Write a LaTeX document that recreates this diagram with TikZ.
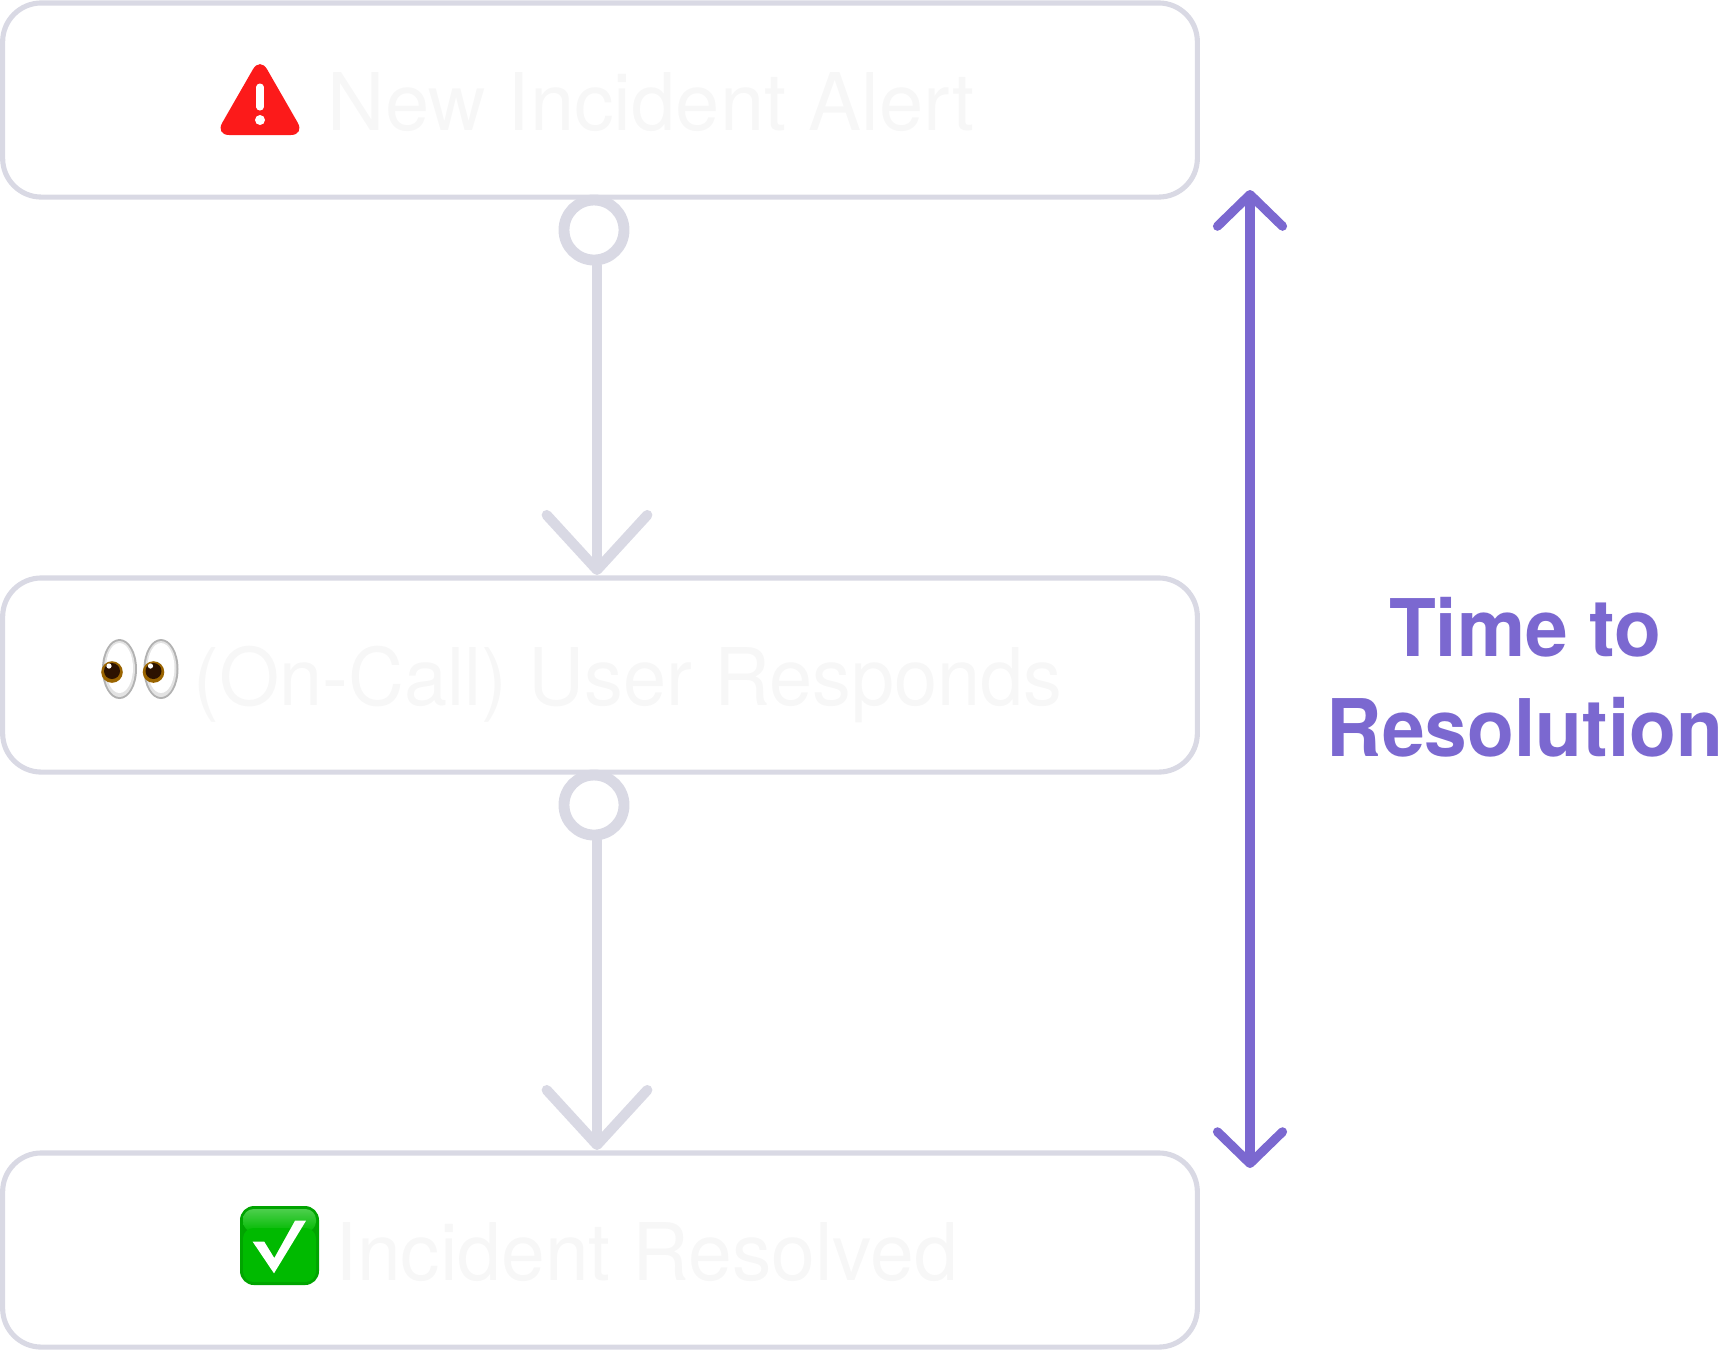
\documentclass[tikz,border=0pt]{standalone}
\usepackage{fontspec}
\setmainfont{TeX Gyre Heros}
\usepackage{tikz}
\usetikzlibrary{arrows.meta}
\definecolor{edgegray}{HTML}{D9D9E4}
\definecolor{labelgray}{HTML}{F7F7F7}
\definecolor{spanpurple}{HTML}{7B68D0}
\definecolor{warnred}{HTML}{FC1A1A}
\definecolor{okgreen}{HTML}{00BA00}
\definecolor{irisgold}{HTML}{9A6400}
\definecolor{pupilbrown}{HTML}{2C1200}
\newcommand{\narrowed}[1]{\addfontfeature{FakeStretch=#1}}
\tikzset{
  stepbox/.style={draw=edgegray, line width=1.45pt, rounded corners=11pt, minimum width=11.94cm, minimum height=1.94cm, inner sep=0pt},
  steptext/.style={text=labelgray, font=\fontsize{22.6}{28}\selectfont, anchor=base west, inner sep=0pt},
  joint/.style={circle, draw=edgegray, line width=3.1pt, minimum size=0.6cm, inner sep=0pt},
  flow/.style={draw=edgegray, line width=3pt, line cap=round, line join=round, -{Straight Barb[length=15.6pt, width=28.6pt, line width=2.9pt, round]}},
  span/.style={draw=spanpurple, line width=2.8pt, line cap=round, {Straight Barb[length=9pt, width=18.5pt, line width=2.6pt, round]}-{Straight Barb[length=9pt, width=18.5pt, line width=2.6pt, round]}},
}
\begin{document}
\begin{tikzpicture}[x=0.01cm, y=-0.01cm]
  \useasboundingbox (0,0) rectangle (1725,1350);
  % the three steps
  \node[stepbox] (alert) at (600,100) {};
  \node[stepbox] (respond) at (600,675) {};
  \node[stepbox] (resolved) at (600,1250) {};
  \node[steptext] (alerttext) at (327,130) {New Incident Alert};
  \node[steptext] (respondtext) at (192.5,705) {\narrowed{0.975}(On-Call) User Responds};
  \node[steptext] (resolvedtext) at (334.5,1280) {\narrowed{0.99}Incident Resolved};

  % connectors
  \node[joint] (jointa) at (594,230) {};
  \node[joint] (jointb) at (594,805) {};
  \coordinate (tipa) at (597,575);
  \coordinate (tipb) at (597,1150);
  \draw[flow] (tipa |- jointa.south) -- (tipa);
  \draw[flow] (tipb |- jointb.south) -- (tipb);

  % time span on the right
  \coordinate (spantop) at (1250,190);
  \coordinate (spanbot) at (1250,1168);
  \draw[span] (spantop) -- (spanbot);
  \node[text=spanpurple, font=\fontsize{22.6}{28}\selectfont\bfseries\narrowed{0.965}, align=center, inner sep=0pt] (spanlabel) at (1525,677) {Time to\\[0.4pt]Resolution};

  % warning sign
  \fill[warnred, rounded corners=4pt] (260,57) -- (304.8,135) -- (215.2,135) -- cycle;
  \draw[white, line width=2pt, line cap=round] (260,87) -- (260,107);
  \fill[white] (260,120) circle (5);

  % eyes
  \foreach \ex in {119.5, 161} {
    \fill[gray!60] (\ex,669) ellipse (17.5 and 30);
    \fill[gray!22] (\ex,669) ellipse (15.5 and 28);
    \fill[white] (\ex,668) ellipse (13.5 and 25);
    \fill[irisgold] (\ex-7.5,672) circle (10.8);
    \fill[pupilbrown] (\ex-7.5,671) circle (8);
    \fill[white] (\ex-10.5,666) circle (2.6);
  }

  % green check mark
  \fill[okgreen!88!black, rounded corners=4pt] (240,1206) rectangle (319,1285);
  \shade[top color=okgreen!70!white, bottom color=okgreen, rounded corners=3pt] (243,1209) rectangle (316,1232);
  \fill[okgreen, rounded corners=3pt] (243,1228) rectangle (316,1282);
  \fill[white] (252.7,1241.7) -- (264.3,1241.7) -- (274.3,1258) -- (295,1220.7) -- (306,1220.7) -- (274,1273.3) -- cycle;
\end{tikzpicture}
\end{document}
